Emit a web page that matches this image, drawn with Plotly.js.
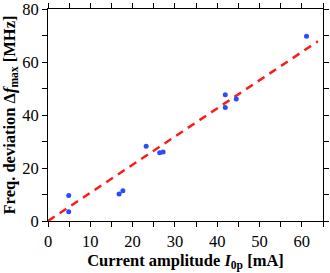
<!DOCTYPE html>
<html><head><meta charset="utf-8">
<script src="https://cdn.plot.ly/plotly-3.0.1.min.js"></script>
<style>html,body{margin:0;padding:0;background:#fff}</style>
</head><body><div id="c" style="width:330px;height:273px"></div>
<script>
const currentMA = [4.9, 4.9, 16.8, 17.7, 23.2, 26.4, 27.2, 41.9, 41.9, 44.5, 61.1];
const deviationMHz = [9.6, 3.5, 10.2, 11.4, 28.2, 25.8, 26.0, 47.6, 42.8, 46.0, 69.7];
const fitX = [0, 63.8];
const fitY = [0, 67.8];
const xTickStep = 10, xMinorStep = 5;
const yTickStep = 20, yMinorStep = 10;

const font = {family: '"Liberation Serif", "Times New Roman", serif', size: 16.5, color: '#000'};
const titleFont = {family: '"Liberation Serif", "Times New Roman", serif', size: 16.5, color: '#000'};
const axBase = {showgrid: false, zeroline: false, showline: true, linecolor: '#000', linewidth: 1,
  mirror: 'allticks', ticks: 'outside', ticklen: 5, tickcolor: '#000', tickfont: font, tickmode: 'linear', tick0: 0,
  ticklabeloverflow: 'allow'};
Plotly.newPlot('c', [
  {x: fitX, y: fitY, mode: 'lines', line: {color: '#ff1a1a', width: 2.5, dash: '8px,6px'}, hoverinfo: 'skip'},
  {x: currentMA, y: deviationMHz, mode: 'markers', marker: {color: '#2a4bff', size: 5}}
], {
  width: 330, height: 273, showlegend: false,
  margin: {l: 48, r: 7, t: 9, b: 52},
  paper_bgcolor: '#fff', plot_bgcolor: '#fff',
  xaxis: Object.assign({}, axBase, {range: [0, 65], dtick: xTickStep,
    minor: {dtick: xMinorStep, tick0: 0, ticks: 'outside', ticklen: 5, tickcolor: '#000', showgrid: false},
    title: {text: '<b>Current amplitude <i>I</i><sub>0p</sub> [mA]</b>', font: titleFont, standoff: 2}}),
  yaxis: Object.assign({}, axBase, {range: [0, 80], dtick: yTickStep,
    minor: {dtick: yMinorStep, tick0: 0, ticks: 'outside', ticklen: 5, tickcolor: '#000', showgrid: false},
    title: {text: '<b>Freq. deviation Δ<i>f</i><sub>max</sub> [MHz]</b>', font: titleFont, standoff: 2}})
}, {staticPlot: true});
</script></body></html>
